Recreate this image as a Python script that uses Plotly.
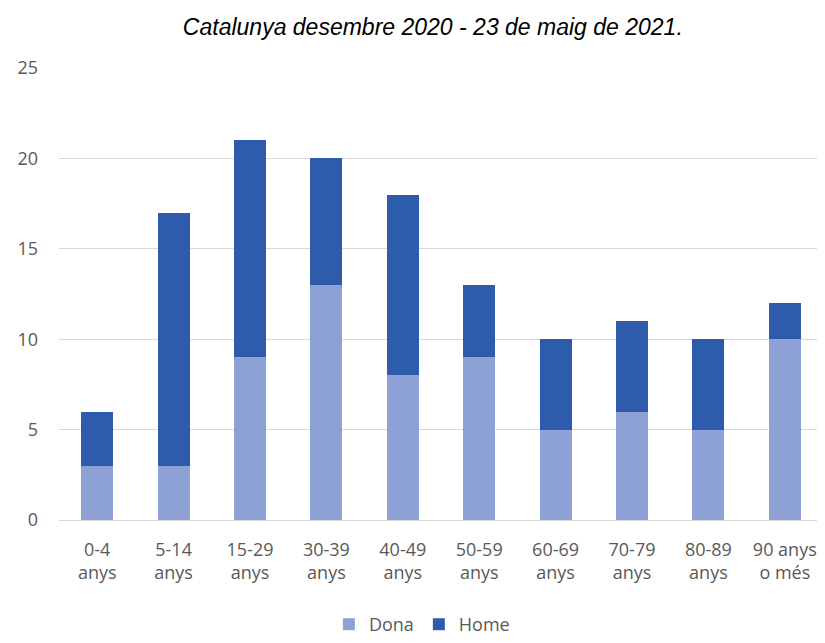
import plotly.graph_objects as go

categories = ["0-4<br>anys", "5-14<br>anys", "15-29<br>anys", "30-39<br>anys", "40-49<br>anys",
              "50-59<br>anys", "60-69<br>anys", "70-79<br>anys", "80-89<br>anys", "90 anys<br>o més"]
dona = [3, 3, 9, 13, 8, 9, 5, 6, 5, 10]
home = [3, 14, 12, 7, 10, 4, 5, 5, 5, 2]
y_ticks = [0, 5, 10, 15, 20, 25]

fig = go.Figure()
fig.add_trace(go.Bar(x=categories, y=dona, name="Dona", marker=dict(color="#8EA1D5", line=dict(width=0))))
fig.add_trace(go.Bar(x=categories, y=home, name="Home", marker=dict(color="#2F5BAD", line=dict(width=0))))

fig.update_layout(
    barmode="stack",
    bargap=0.58,
    width=817, height=635,
    paper_bgcolor="white", plot_bgcolor="white",
    margin=dict(l=51, r=2, t=60, b=123),
    title=dict(text="<i>Catalunya desembre 2020 - 23 de maig de 2021.</i>",
               x=0.52, xanchor="center", y=0.97, yanchor="middle",
               font=dict(family="Liberation Sans, Arial", size=23, color="#000000")),
    font=dict(family="Open Sans", size=18, color="#595959"),
    legend=dict(orientation="h", x=0.475, xanchor="center", yref="container", y=-0.005, yanchor="bottom",
                font=dict(family="Open Sans", size=18, color="#595959"),
                itemwidth=30, traceorder="normal", tracegroupgap=0),
    showlegend=True,
)
fig.update_yaxes(range=[0, 25], tickvals=y_ticks, showgrid=True, gridcolor="#D9D9D9", gridwidth=1,
                 zeroline=False, showline=False, ticks="", ticklabelstandoff=20,
                 tickfont=dict(family="Open Sans", size=18, color="#595959"))
fig.update_xaxes(showline=True, linecolor="#D9D9D9", linewidth=1, ticks="", ticklabelstandoff=13,
                 tickfont=dict(family="Open Sans", size=18, color="#595959"))

fig.write_html("out.html")
